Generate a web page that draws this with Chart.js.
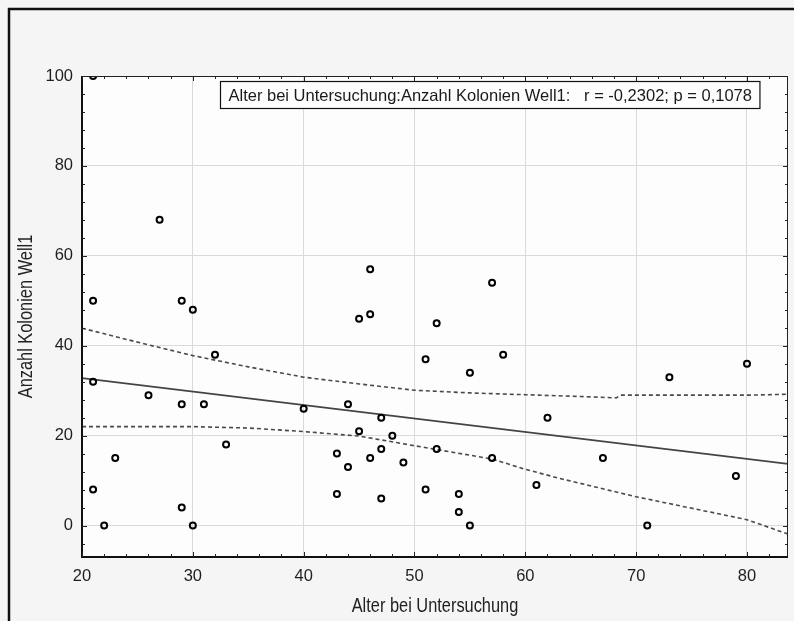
<!DOCTYPE html>
<html>
<head>
<meta charset="utf-8">
<script src="https://cdn.jsdelivr.net/npm/chart.js@4.4.1/dist/chart.umd.min.js"></script>
<style>
  html, body { margin: 0; padding: 0; background: #f5f5f5; }
  canvas { display: block; }
</style>
</head>
<body>
<canvas id="chart" width="794" height="621"></canvas>
<script>
// Alter bei Untersuchung vs. Anzahl Kolonien Well1
const age = [21, 21, 21, 21, 22, 23, 26, 27, 29, 29, 29, 30, 30, 31, 32, 33, 40, 43, 43, 44, 44, 45, 45, 46, 46, 46, 47, 47, 47, 48, 49, 51, 51, 52, 52, 54, 54, 55, 55, 57, 57, 58, 61, 62, 67, 71, 73, 79, 80];
const colonies = [100, 50, 32, 8, 0, 15, 29, 68, 50, 27, 4, 48, 0, 27, 38, 18, 26, 16, 7, 27, 13, 46, 21, 57, 47, 15, 24, 17, 6, 20, 14, 37, 8, 45, 17, 7, 3, 34, 0, 54, 15, 38, 9, 24, 15, 0, 33, 11, 36];

// regression line and its dashed bands
const fitX = [20, 83.7];
const fitY = [32.8, 13.7];
const upperX = [20, 25, 30, 35, 40, 45, 50, 55, 60, 65, 68.2, 68.6, 75, 80, 83.7];
const upperY = [43.9, 40.8, 37.8, 35.3, 33.0, 31.5, 30.1, 29.5, 29.1, 28.7, 28.4, 29.0, 29.0, 29.0, 29.2];
const lowerX = [20, 30, 35, 40, 45, 48.5, 52, 57, 60, 63.4, 70, 80, 83.7];
const lowerY = [22.0, 22.0, 21.7, 20.9, 19.9, 18.4, 16.9, 14.8, 12.5, 10.3, 6.4, 1.3, -1.9];

const xTicks = [20, 30, 40, 50, 60, 70, 80];
const yTicks = [0, 20, 40, 60, 80, 100];
const xTitle = 'Alter bei Untersuchung';
const yTitle = 'Anzahl Kolonien Well1';
const statsText = 'Alter bei Untersuchung:Anzahl Kolonien Well1:   r = -0,2302; p = 0,1078';

const toPoints = (xs, ys) => xs.map((x, i) => ({ x, y: ys[i] }));
const FONT = '"Liberation Sans", Arial, sans-serif';

// condensed text: squeeze horizontally around the given centre
function narrowText(ctx, text, cx, cy, rot) {
  ctx.save();
  ctx.translate(cx, cy);
  ctx.rotate(rot);
  ctx.scale(0.84, 1);
  ctx.font = '19.5px ' + FONT;
  ctx.fillStyle = '#222';
  ctx.textAlign = 'center';
  ctx.textBaseline = 'middle';
  ctx.fillText(text, 0, 0);
  ctx.restore();
}

const framePlugin = {
  id: 'frame',
  beforeDraw(chart) {
    const { ctx, chartArea: a } = chart;
    ctx.save();
    ctx.fillStyle = '#f5f5f5';
    ctx.fillRect(0, 0, chart.width, chart.height);
    ctx.fillStyle = '#fdfdfd';
    ctx.fillRect(a.left, a.top, a.right - a.left, a.bottom - a.top);
    // window frame
    ctx.strokeStyle = '#111';
    ctx.lineWidth = 2.5;
    ctx.beginPath();
    ctx.moveTo(9, chart.height);
    ctx.lineTo(9, 9);
    ctx.lineTo(chart.width, 9);
    ctx.stroke();
    ctx.restore();
  },
  afterDraw(chart) {
    const { ctx, chartArea: a, scales } = chart;
    const sx = scales.x, sy = scales.y;
    ctx.save();
    // plot border
    ctx.strokeStyle = '#222';
    ctx.lineWidth = 1;
    ctx.strokeRect(a.left, a.top + 0.5, a.right - a.left - 0.5, a.bottom - a.top);
    ctx.lineWidth = 2;
    ctx.strokeStyle = '#111';
    ctx.beginPath();
    ctx.moveTo(a.left, a.top);
    ctx.lineTo(a.left, a.bottom);
    ctx.lineTo(a.right, a.bottom);
    ctx.stroke();

    // inward tick marks on all four sides
    ctx.lineWidth = 1;
    ctx.strokeStyle = '#222';
    ctx.beginPath();
    for (let v = 20; v <= sx.max; v += 2) {
      const px = Math.round(sx.getPixelForValue(v)) + 0.5;
      const len = v % 10 === 0 ? 5 : 3;
      ctx.moveTo(px, a.bottom); ctx.lineTo(px, a.bottom - len);
      ctx.moveTo(px, a.top); ctx.lineTo(px, a.top + len);
    }
    for (let v = -4; v <= sy.max; v += 4) {
      const py = Math.round(sy.getPixelForValue(v)) + 0.5;
      const len = v % 20 === 0 ? 5 : 3;
      ctx.moveTo(a.left, py); ctx.lineTo(a.left + len, py);
      ctx.moveTo(a.right, py); ctx.lineTo(a.right - len, py);
    }
    ctx.stroke();

    // axis titles
    narrowText(ctx, xTitle, (a.left + a.right) / 2, 606.5, 0);
    narrowText(ctx, yTitle, 27, (a.top + a.bottom) / 2, -Math.PI / 2);

    // statistics box
    ctx.font = '16.5px ' + FONT;
    const tw = ctx.measureText(statsText).width;
    const bx = 220.5, by = 81.5, bh = 27;
    ctx.fillStyle = '#fdfdfd';
    ctx.fillRect(bx, by, tw + 16, bh);
    ctx.strokeStyle = '#111';
    ctx.lineWidth = 1.2;
    ctx.strokeRect(bx, by, tw + 16, bh);
    ctx.fillStyle = '#1a1a1a';
    ctx.textBaseline = 'middle';
    ctx.fillText(statsText, bx + 8, by + bh / 2 + 1);
    ctx.restore();
  }
};

new Chart(document.getElementById('chart'), {
  type: 'scatter',
  data: {
    datasets: [
      {
        data: toPoints(age, colonies),
        pointRadius: 3,
        pointBorderWidth: 2,
        pointBorderColor: '#000',
        pointBackgroundColor: 'rgba(0,0,0,0)',
        showLine: false
      },
      {
        data: toPoints(fitX, fitY),
        showLine: true,
        pointRadius: 0,
        borderColor: '#444',
        borderWidth: 1.8
      },
      {
        data: toPoints(upperX, upperY),
        showLine: true,
        pointRadius: 0,
        borderColor: '#4a4a4a',
        borderWidth: 1.6,
        borderDash: [4, 3]
      },
      {
        data: toPoints(lowerX, lowerY),
        showLine: true,
        pointRadius: 0,
        borderColor: '#4a4a4a',
        borderWidth: 1.6,
        borderDash: [4, 3]
      }
    ]
  },
  options: {
    responsive: false,
    animation: false,
    events: [],
    layout: { padding: { top: 76, right: 1, left: 0, bottom: 0 } },
    plugins: { legend: { display: false }, tooltip: { enabled: false } },
    scales: {
      x: {
        type: 'linear',
        min: 20,
        max: 83.7,
        afterBuildTicks: s => { s.ticks = xTicks.map(v => ({ value: v })); },
        afterFit: s => { s.height = 64; },
        grid: { color: '#dadada', lineWidth: 1, drawTicks: false },
        border: { display: false },
        ticks: { padding: 10, color: '#1e1e1e', font: { family: FONT, size: 16.5 } }
      },
      y: {
        type: 'linear',
        min: -7,
        max: 100,
        afterBuildTicks: s => { s.ticks = yTicks.map(v => ({ value: v })); },
        afterFit: s => { s.width = 82; },
        grid: { color: '#dadada', lineWidth: 1, drawTicks: false },
        border: { display: false },
        ticks: { padding: 9, color: '#1e1e1e', font: { family: FONT, size: 16.5 } }
      }
    }
  },
  plugins: [framePlugin]
});
</script>
</body>
</html>
